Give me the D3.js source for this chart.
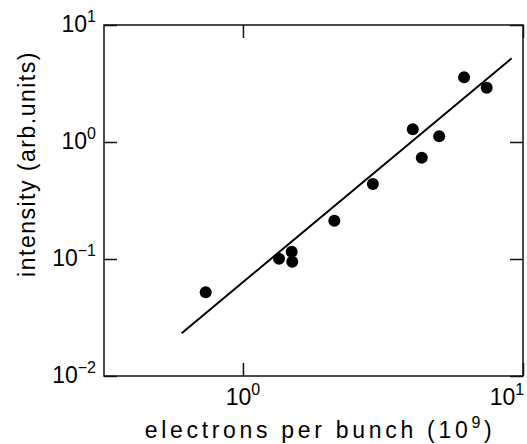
<!DOCTYPE html>
<html>
<head>
<meta charset="utf-8">
<script src="https://cdn.jsdelivr.net/npm/d3@7"></script>
<style>
  body { margin: 0; background: #fff; }
  svg { display: block; font-family: "Liberation Sans", Arial, sans-serif; }
</style>
</head>
<body>
<svg></svg>
<script>
(function (d3) {
  'use strict';

  // electrons per bunch (10^9) and intensity (arb. units)
  const electrons = [0.736, 1.345, 1.493, 1.50, 2.12, 2.91, 4.04, 4.35, 5.02, 6.16, 7.42];
  const intensity = [0.0519, 0.1006, 0.1154, 0.0948, 0.2126, 0.4375, 1.284, 0.734, 1.119, 3.57, 2.91];

  // fitted line end points
  const fitX = [0.604, 9.11];
  const fitY = [0.0232, 5.19];

  const xTickExp = [0, 1];
  const yTickExp = [1, 0, -1, -2];

  const width = 527;
  const height = 444;
  const margin = { top: 25, right: 4, bottom: 68, left: 104 };
  const innerWidth = width - margin.left - margin.right;
  const innerHeight = height - margin.top - margin.bottom;

  const svg = d3.select('svg')
      .attr('width', width)
      .attr('height', height);

  const g = svg.append('g')
      .attr('transform', `translate(${margin.left},${margin.top})`);

  const x = d3.scaleLog().domain([0.319, 10]).range([0, innerWidth]);
  const y = d3.scaleLog().domain([0.01, 10]).range([innerHeight, 0]);

  const tickLen = 13;

  // frame
  g.append('rect')
      .attr('width', innerWidth)
      .attr('height', innerHeight)
      .attr('fill', 'none')
      .attr('stroke', '#111')
      .attr('stroke-width', 1.5);

  // inward ticks on all four sides
  const xt = xTickExp.map(e => Math.pow(10, e));
  const yt = yTickExp.map(e => Math.pow(10, e));

  g.append('g')
      .attr('transform', `translate(0,${innerHeight})`)
      .call(d3.axisBottom(x).tickValues(xt).tickSize(-tickLen).tickFormat(''))
      .call(a => a.select('.domain').remove());
  g.append('g')
      .call(d3.axisTop(x).tickValues(xt).tickSize(-tickLen).tickFormat(''))
      .call(a => a.select('.domain').remove());
  g.append('g')
      .call(d3.axisLeft(y).tickValues(yt).tickSize(-tickLen).tickFormat(''))
      .call(a => a.select('.domain').remove());
  g.append('g')
      .attr('transform', `translate(${innerWidth},0)`)
      .call(d3.axisRight(y).tickValues(yt).tickSize(-tickLen).tickFormat(''))
      .call(a => a.select('.domain').remove());

  g.selectAll('.tick line')
      .attr('stroke', '#111')
      .attr('stroke-width', 1.5);

  function power(sel, e) {
    sel.append('tspan').text('10');
    sel.append('tspan')
        .attr('dy', -10)
        .attr('font-size', 16)
        .text(e < 0 ? '\u2212' + (-e) : e);
  }

  // y tick labels
  g.selectAll('.ylab').data(yTickExp)
    .enter().append('text')
      .attr('class', 'ylab')
      .attr('x', -8)
      .attr('y', e => y(Math.pow(10, e)) + 7)
      .attr('text-anchor', 'end')
      .attr('font-size', 23)
      .each(function (e) { power(d3.select(this), e); });

  // x tick labels (last one pulled in so it stays on the page)
  g.selectAll('.xlab').data(xTickExp)
    .enter().append('text')
      .attr('class', 'xlab')
      .attr('x', e => x(Math.pow(10, e)) - (e === 1 ? 16 : 0))
      .attr('y', innerHeight + 29)
      .attr('text-anchor', 'middle')
      .attr('font-size', 23)
      .each(function (e) { power(d3.select(this), e); });

  // fit line
  g.append('line')
      .attr('x1', x(fitX[0]))
      .attr('y1', y(fitY[0]))
      .attr('x2', x(fitX[1]))
      .attr('y2', y(fitY[1]))
      .attr('stroke', '#000')
      .attr('stroke-width', 2);

  // data points
  g.selectAll('circle').data(electrons)
    .enter().append('circle')
      .attr('cx', d => x(d))
      .attr('cy', (d, i) => y(intensity[i]))
      .attr('r', 6)
      .attr('fill', '#000');

  // axis titles
  const xt2 = svg.append('text')
      .attr('x', 320)
      .attr('y', 438)
      .attr('text-anchor', 'middle')
      .attr('font-size', 23)
      .attr('letter-spacing', 3.7);
  xt2.append('tspan').text('electrons per bunch (10');
  xt2.append('tspan').attr('dy', -10).attr('font-size', 16).text('9');
  xt2.append('tspan').attr('dy', 10).text(')');

  svg.append('text')
      .attr('transform', 'translate(35,164) rotate(-90)')
      .attr('text-anchor', 'middle')
      .attr('font-size', 23)
      .attr('letter-spacing', 1.5)
      .text('intensity (arb.units)');

}(d3));
</script>
</body>
</html>
